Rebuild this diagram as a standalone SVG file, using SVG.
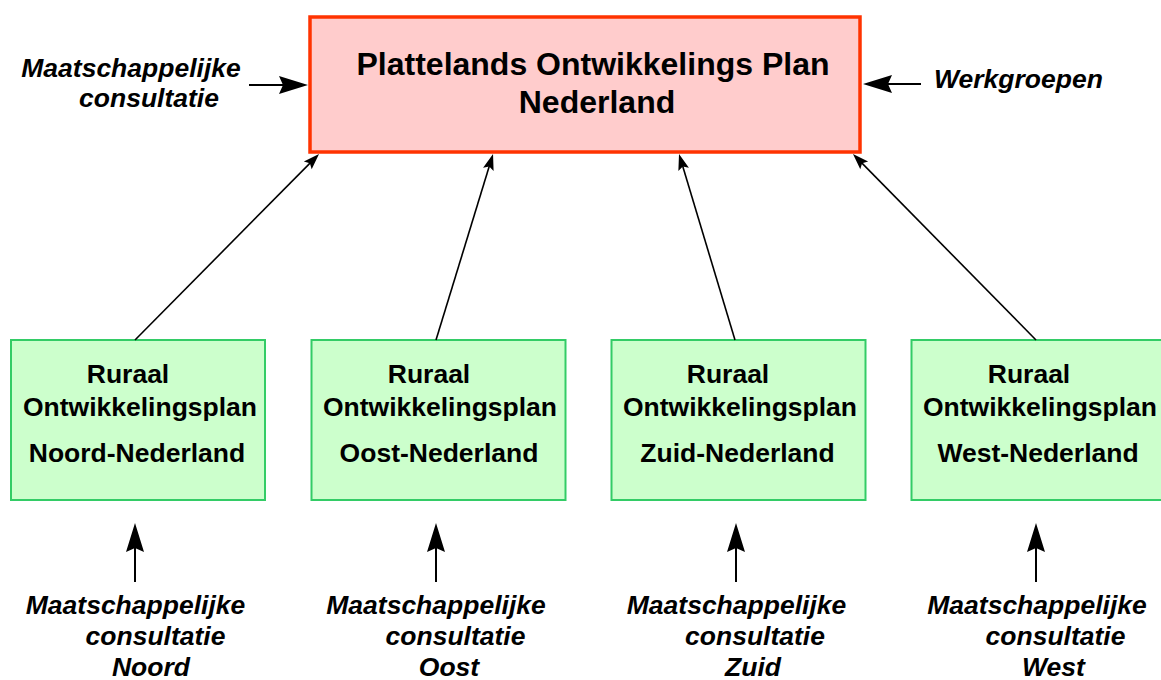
<svg xmlns="http://www.w3.org/2000/svg" width="1161" height="680" viewBox="0 0 1161 680">
<style>
  .bold { font-family: "Liberation Sans", Arial, sans-serif; font-weight: bold; fill: #000; }
  .title { font-size: 32px; text-anchor: middle; }
  .box { font-size: 26.5px; text-anchor: middle; }
  .lbl { font-family: "Liberation Sans", Arial, sans-serif; font-weight: bold; font-style: italic; font-size: 26.5px; fill: #000; text-anchor: middle; }
  .main { fill: #ffcccc; stroke: #ff3300; stroke-width: 3.5; }
  .rop { fill: #ccffcc; stroke: #33cc66; stroke-width: 2; }
  .big { stroke: #000; stroke-width: 2; fill: none; marker-end: url(#bigArrow); }
  .small { stroke: #000; stroke-width: 1.6; fill: none; marker-end: url(#smallArrow); }
</style>
<defs>
  <marker id="bigArrow" markerUnits="userSpaceOnUse" viewBox="-30 -10 31 20" markerWidth="31" markerHeight="20" refX="-20" refY="0" orient="auto">
    <path d="M0,0 L-29,-9 L-25,0 L-29,9 Z" fill="#000"/>
  </marker>
  <marker id="smallArrow" markerUnits="userSpaceOnUse" viewBox="-17 -6 18 12" markerWidth="18" markerHeight="12" refX="-10" refY="0" orient="auto">
    <path d="M0,0 L-16,-5.5 L-13,0 L-16,5.5 Z" fill="#000"/>
  </marker>
</defs>

<g id="pop">
  <rect class="main" x="310" y="17" width="550" height="135"/>
  <text class="bold title" x="593" y="75">Plattelands Ontwikkelings Plan</text>
  <text class="bold title" x="597" y="113">Nederland</text>
</g>

<g id="rop-noord">
  <rect class="rop" x="11" y="340" width="254" height="160"/>
  <text class="bold box" x="128" y="383">Ruraal</text>
  <text class="bold box" x="140" y="416">Ontwikkelingsplan</text>
  <text class="bold box" x="137" y="462">Noord-Nederland</text>
</g>
<g id="rop-oost">
  <rect class="rop" x="311.5" y="340" width="254" height="160"/>
  <text class="bold box" x="429" y="383">Ruraal</text>
  <text class="bold box" x="440" y="416">Ontwikkelingsplan</text>
  <text class="bold box" x="439" y="462">Oost-Nederland</text>
</g>
<g id="rop-zuid">
  <rect class="rop" x="611.5" y="340" width="254" height="160"/>
  <text class="bold box" x="728" y="383">Ruraal</text>
  <text class="bold box" x="740" y="416">Ontwikkelingsplan</text>
  <text class="bold box" x="737.5" y="462">Zuid-Nederland</text>
</g>
<g id="rop-west">
  <rect class="rop" x="911.5" y="340" width="254" height="160"/>
  <text class="bold box" x="1029" y="383">Ruraal</text>
  <text class="bold box" x="1040" y="416">Ontwikkelingsplan</text>
  <text class="bold box" x="1038" y="462">West-Nederland</text>
</g>

<g id="label-mc-top">
  <text class="lbl" x="131" y="77">Maatschappelijke</text>
  <text class="lbl" x="149" y="107">consultatie</text>
</g>
<g id="label-werkgroepen">
  <text class="lbl" x="934" y="88" style="text-anchor:start">Werkgroepen</text>
</g>
<g id="label-mc-noord">
  <text class="lbl" x="135.5" y="614">Maatschappelijke</text>
  <text class="lbl" x="155.5" y="645">consultatie</text>
  <text class="lbl" x="151" y="676">Noord</text>
</g>
<g id="label-mc-oost">
  <text class="lbl" x="436" y="614">Maatschappelijke</text>
  <text class="lbl" x="455.5" y="645">consultatie</text>
  <text class="lbl" x="449" y="676">Oost</text>
</g>
<g id="label-mc-zuid">
  <text class="lbl" x="736.5" y="614">Maatschappelijke</text>
  <text class="lbl" x="755" y="645">consultatie</text>
  <text class="lbl" x="753" y="676">Zuid</text>
</g>
<g id="label-mc-west">
  <text class="lbl" x="1037" y="614">Maatschappelijke</text>
  <text class="lbl" x="1055.5" y="645">consultatie</text>
  <text class="lbl" x="1053.5" y="676">West</text>
</g>

<g id="connectors">
  <line class="big" x1="249" y1="85" x2="288" y2="85"/>
  <line class="big" x1="921" y1="84" x2="883" y2="84"/>
  <line class="big" x1="135" y1="582" x2="135" y2="543"/>
  <line class="big" x1="436" y1="582" x2="436" y2="543"/>
  <line class="big" x1="736" y1="582" x2="736" y2="543"/>
  <line class="big" x1="1036" y1="582" x2="1036" y2="543"/>
  <line class="small" x1="135" y1="340" x2="312" y2="161.1"/>
  <line class="small" x1="436" y1="340" x2="490.1" y2="163.6"/>
  <line class="small" x1="735" y1="340" x2="681.9" y2="163.6"/>
  <line class="small" x1="1036" y1="340" x2="860" y2="161.1"/>
</g>
</svg>
